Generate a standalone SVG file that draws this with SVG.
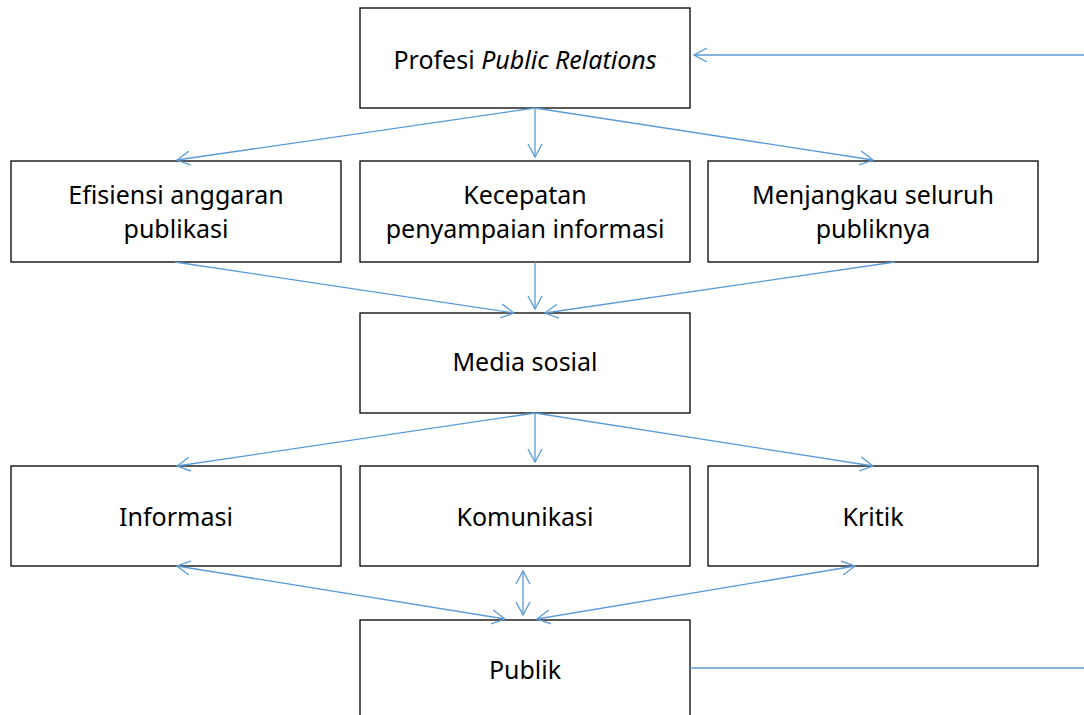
<svg xmlns="http://www.w3.org/2000/svg" width="1084" height="715" viewBox="0 0 1084 715">
<style>
.box{fill:#fff;stroke:#000;stroke-width:1.3}
.t{font-family:"Noto Sans","Liberation Sans",sans-serif;font-size:25px;fill:#000;text-anchor:middle}
.c{fill:none;stroke:#5b9bd5;stroke-width:1.3}
</style>
<defs>
<marker id="a" viewBox="0 0 14 16" refX="13" refY="8" markerWidth="14" markerHeight="16" markerUnits="userSpaceOnUse" orient="auto-start-reverse">
<path d="M0,1 L13,8 L0,15" fill="none" stroke="#5b9bd5" stroke-width="1.3"/>
</marker>
</defs>
<g id="n1"><rect class="box" x="360" y="8" width="330" height="100"/><text class="t" x="525" y="69">Profesi <tspan font-style="italic">Public Relations</tspan></text></g>
<g id="n2"><rect class="box" x="11" y="161" width="330" height="101"/><text class="t" x="176" y="204">Efisiensi anggaran</text><text class="t" x="176" y="238">publikasi</text></g>
<g id="n3"><rect class="box" x="360" y="161" width="330" height="101"/><text class="t" x="525" y="204">Kecepatan</text><text class="t" x="525" y="238">penyampaian informasi</text></g>
<g id="n4"><rect class="box" x="708" y="161" width="330" height="101"/><text class="t" x="873" y="204">Menjangkau seluruh</text><text class="t" x="873" y="238">publiknya</text></g>
<g id="n5"><rect class="box" x="360" y="313" width="330" height="100"/><text class="t" x="525" y="371">Media sosial</text></g>
<g id="n6"><rect class="box" x="11" y="466" width="330" height="100"/><text class="t" x="176" y="526">Informasi</text></g>
<g id="n7"><rect class="box" x="360" y="466" width="330" height="100"/><text class="t" x="525" y="526">Komunikasi</text></g>
<g id="n8"><rect class="box" x="708" y="466" width="330" height="100"/><text class="t" x="873" y="526">Kritik</text></g>
<g id="n9"><rect class="box" x="360" y="620" width="330" height="100"/><text class="t" x="525" y="679">Publik</text></g>
<g id="connectors">
<line class="c" x1="1084" y1="55" x2="694" y2="55" marker-end="url(#a)"/>
<line class="c" x1="535" y1="108" x2="177" y2="160" marker-end="url(#a)"/>
<line class="c" x1="535" y1="108" x2="535" y2="157" marker-end="url(#a)"/>
<line class="c" x1="535" y1="108" x2="873" y2="160" marker-end="url(#a)"/>
<line class="c" x1="175" y1="262" x2="514" y2="313" marker-end="url(#a)"/>
<line class="c" x1="535" y1="262" x2="535" y2="309" marker-end="url(#a)"/>
<line class="c" x1="895" y1="262" x2="545" y2="313" marker-end="url(#a)"/>
<line class="c" x1="535" y1="413" x2="177" y2="466" marker-end="url(#a)"/>
<line class="c" x1="535" y1="413" x2="535" y2="462" marker-end="url(#a)"/>
<line class="c" x1="535" y1="413" x2="873" y2="466" marker-end="url(#a)"/>
<line class="c" x1="177" y1="566" x2="505" y2="619" marker-start="url(#a)" marker-end="url(#a)"/>
<line class="c" x1="523" y1="571" x2="523" y2="615" marker-start="url(#a)" marker-end="url(#a)"/>
<line class="c" x1="855" y1="566" x2="537" y2="619" marker-start="url(#a)" marker-end="url(#a)"/>
<line class="c" x1="690" y1="668" x2="1084" y2="668"/>
</g>
</svg>
